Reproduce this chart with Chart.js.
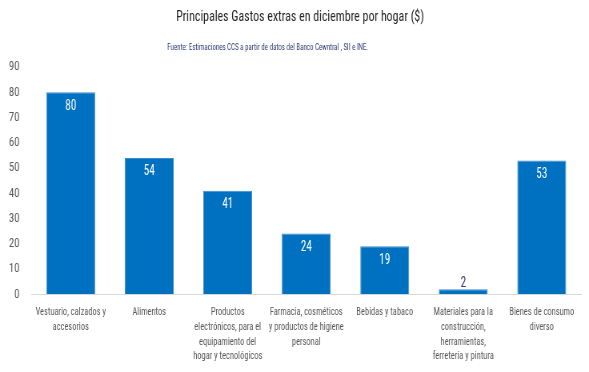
<!DOCTYPE html>
<html><head><meta charset="utf-8">
<script src="https://cdn.jsdelivr.net/npm/chart.js@4.4.0/dist/chart.umd.min.js"></script>
<style>
html,body{margin:0;padding:0;background:#fff;overflow:hidden;width:589px;height:372px}
#wrap{width:736px;height:372px;position:relative;transform:scaleX(0.80027);transform-origin:0 0}
</style>
</head><body><div id="wrap"><canvas id="c"></canvas></div>
<script>
const categories = [
  ["Vestuario, calzados y", "accesorios"],
  ["Alimentos"],
  ["Productos", "electrónicos, para el", "equipamiento del", "hogar y tecnológicos"],
  ["Farmacia, cosméticos", "y productos de higiene", "personal"],
  ["Bebidas y tabaco"],
  ["Materiales para la", "construcción,", "herramientas,", "ferretería y pintura"],
  ["Bienes de consumo", "diverso"]
];
const values = [80, 54, 41, 24, 19, 2, 53];
const yMin = 0, yMax = 90, yStep = 10;
const titleText = "Principales Gastos extras en diciembre por hogar ($)";
const subtitleText = "Fuente: Estimaciones CCS a partir de datos del Banco Cewntral , SII e INE.";

const FONT = "'Roboto Condensed', 'Liberation Sans Narrow', 'DejaVu Sans Condensed', sans-serif";
const Y_TICK_PAD = 15;

function drawFitted(ctx, text, x, y, targetWidth, align) {
  const w = ctx.measureText(text).width;
  const s = Math.min(1, targetWidth / w);
  ctx.save();
  ctx.translate(x, y);
  ctx.scale(s, 1);
  ctx.textAlign = align;
  ctx.fillText(text, 0, 0);
  ctx.restore();
}

const headerPlugin = {
  id: 'header',
  afterDraw(chart) {
    const ctx = chart.ctx;
    ctx.save();
    ctx.textBaseline = 'middle';
    ctx.font = "15px " + FONT;
    ctx.fillStyle = '#262626';
    drawFitted(ctx, titleText, 375, 17, 310, 'center');
    ctx.font = "9.5px " + FONT;
    ctx.fillStyle = '#2F3B73';
    drawFitted(ctx, subtitleText, 209, 48, 251, 'left');
    ctx.restore();
  }
};

const labelPlugin = {
  id: 'barLabels',
  afterDatasetsDraw(chart) {
    const ctx = chart.ctx;
    const meta = chart.getDatasetMeta(0);
    ctx.save();
    ctx.font = "14px " + FONT;
    ctx.textAlign = 'center';
    ctx.textBaseline = 'middle';
    meta.data.forEach((bar, i) => {
      const v = values[i];
      if (v >= 10) {
        ctx.fillStyle = '#ffffff';
        ctx.fillText(String(v), bar.x, bar.y + 14);
      } else {
        ctx.fillStyle = '#2F3B73';
        ctx.fillText(String(v), bar.x, bar.y - 6);
      }
    });
    ctx.restore();
  }
};

new Chart(document.getElementById('c'), {
  type: 'bar',
  data: {
    labels: categories,
    datasets: [{
      data: values,
      backgroundColor: '#0070C0',
      borderColor: '#3E8DD3',
      borderWidth: 1,
      barPercentage: 0.623,
      categoryPercentage: 1
    }]
  },
  options: {
    responsive: true,
    maintainAspectRatio: false,
    animation: false,
    layout: { padding: { left: 11, right: 10, top: 67, bottom: 8 } },
    plugins: {
      legend: { display: false },
      tooltip: { enabled: false },
      title: { display: false },
      subtitle: { display: false }
    },
    scales: {
      x: {
        grid: { display: true, drawOnChartArea: false, drawTicks: true, tickLength: 11, color: 'rgba(0,0,0,0)' },
        border: { display: true, color: '#D9D9D9', width: 1 },
        ticks: {
          color: '#595959', font: { family: FONT, size: 10.5, lineHeight: 1.4 },
          maxRotation: 0, autoSkip: false, padding: 0
        },
        afterFit(scale) { scale.paddingLeft = 0; scale.paddingRight = 0; }
      },
      y: {
        min: yMin, max: yMax,
        grid: { display: false, drawTicks: false },
        border: { display: false },
        ticks: {
          stepSize: yStep, color: '#595959',
          font: { family: FONT, size: 13.5 }, padding: Y_TICK_PAD
        },
        afterFit(scale) { scale.width = scale.width - Y_TICK_PAD; }
      }
    }
  },
  plugins: [labelPlugin, headerPlugin]
});
</script></body></html>
